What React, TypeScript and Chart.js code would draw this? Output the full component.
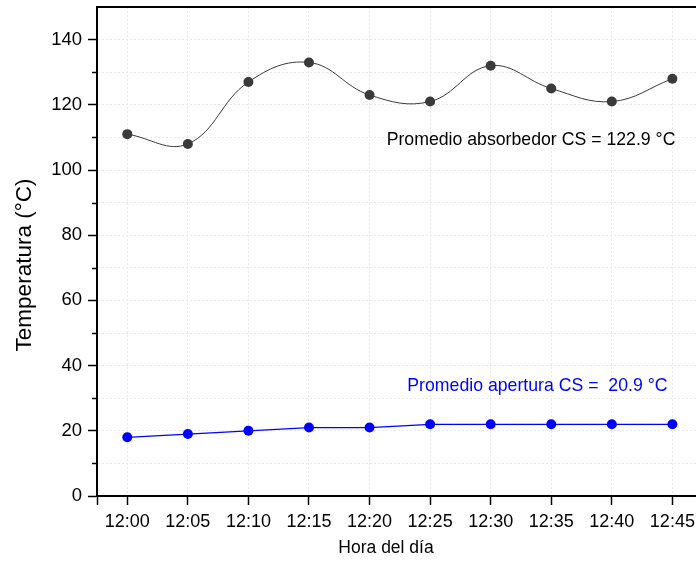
import React, { useEffect, useRef } from 'react';
import { Chart, registerables } from 'chart.js';

Chart.register(...registerables);

const categories = ['12:00', '12:05', '12:10', '12:15', '12:20', '12:25', '12:30', '12:35', '12:40', '12:45'];
const absorbedorValues = [111, 108, 127, 133, 123, 121, 132, 125, 121, 128];
const aperturaValues = [18, 19, 20, 21, 21, 22, 22, 22, 22, 22];
const yTickLabels = [0, 20, 40, 60, 80, 100, 120, 140];
const yMinorTicks = [10, 30, 50, 70, 90, 110, 130];
const xRange = { min: -0.5, max: 9.39 };
const yRange = { min: 0, max: 150 };
const annotations = [
  { text: 'Promedio absorbedor CS = 122.9 °C', x: 9.05, y: 109.3, color: '#000000' },
  { text: 'Promedio apertura CS =  20.9 °C', x: 8.92, y: 33.6, color: '#0000ff' },
];
const xTitle = 'Hora del día';
const yTitle = 'Temperatura (°C)';

const FONT = "'Liberation Sans', Arial, sans-serif";

export default function App() {
  const ref = useRef<HTMLCanvasElement | null>(null);

  useEffect(() => {
    if (!ref.current) return;
    const extras = {
      id: 'extras',
      afterDraw(chart: any) {
        const ctx = chart.ctx;
        const { left, right, top } = chart.chartArea;
        const ys = chart.scales.y;
        ctx.save();
        ctx.strokeStyle = '#000';
        ctx.lineWidth = 2;
        ctx.beginPath();
        ctx.moveTo(left - 1, top);
        ctx.lineTo(right, top);
        ctx.stroke();
        ctx.lineWidth = 1.5;
        yMinorTicks.forEach((v) => {
          const py = Math.round(ys.getPixelForValue(v)) + 0.5;
          ctx.beginPath();
          ctx.moveTo(left - 5, py);
          ctx.lineTo(left, py);
          ctx.stroke();
        });
        ctx.fillStyle = '#000';
        ctx.textAlign = 'center';
        ctx.textBaseline = 'middle';
        ctx.font = `17.5px ${FONT}`;
        ctx.fillText(xTitle, 386, 548);
        ctx.font = `22.5px ${FONT}`;
        ctx.translate(25, 265);
        ctx.rotate(-Math.PI / 2);
        ctx.fillText(yTitle, 0, 0);
        ctx.restore();
      },
      afterDatasetsDraw(chart: any) {
        const ctx = chart.ctx;
        const xs = chart.scales.x;
        const ys = chart.scales.y;
        ctx.save();
        ctx.font = `17.7px ${FONT}`;
        ctx.textAlign = 'right';
        ctx.textBaseline = 'middle';
        annotations.forEach((a) => {
          ctx.fillStyle = a.color;
          ctx.fillText(a.text, xs.getPixelForValue(a.x), ys.getPixelForValue(a.y));
        });
        ctx.restore();
      },
    };

    const chart = new Chart(ref.current, {
      type: 'line',
      data: {
        datasets: [
          {
            label: 'Absorbedor',
            data: absorbedorValues.map((v, i) => ({ x: i, y: v })),
            borderColor: '#3a3a3a',
            backgroundColor: '#3a3a3a',
            borderWidth: 1,
            pointRadius: 5,
            pointBorderWidth: 0,
            tension: 0.4,
            fill: false,
          },
          {
            label: 'Apertura',
            data: aperturaValues.map((v, i) => ({ x: i, y: v })),
            borderColor: '#0000ff',
            backgroundColor: '#0000ff',
            borderWidth: 1.2,
            pointRadius: 5,
            pointBorderWidth: 0,
            tension: 0,
            fill: false,
          },
        ],
      },
      options: {
        responsive: false,
        animation: false,
        layout: { autoPadding: false, padding: { top: 7, left: 0, right: 0, bottom: 0 } },
        plugins: { legend: { display: false }, tooltip: { enabled: false } },
        scales: {
          x: {
            type: 'linear',
            min: xRange.min,
            max: xRange.max,
            afterBuildTicks: (scale: any) => {
              scale.ticks = [{ value: xRange.min }, ...categories.map((_, i) => ({ value: i }))];
            },
            afterFit: (scale: any) => {
              scale.height = 65;
              scale.paddingLeft = 0;
              scale.paddingRight = 0;
            },
            ticks: {
              autoSkip: false,
              maxRotation: 0,
              padding: 6,
              color: '#000',
              font: { size: 18, family: FONT },
              callback: (v: any) => (Number.isInteger(v) && categories[v] !== undefined ? categories[v] : ''),
            },
            grid: {
              color: (c: any) => (c.tick && Number.isInteger(c.tick.value) ? '#e8e8e8' : 'rgba(0,0,0,0)'),
              lineWidth: 1,
              tickLength: 9,
              tickColor: '#000',
              tickWidth: 1.5,
            },
            border: { display: true, color: '#000', width: 2, dash: [2, 2] },
            title: { display: false },
          },
          y: {
            type: 'linear',
            min: yRange.min,
            max: yRange.max,
            afterBuildTicks: (scale: any) => {
              const vals: number[] = [];
              for (let v = yRange.min; v <= yRange.max; v += 10) vals.push(v);
              scale.ticks = vals.map((v) => ({ value: v }));
            },
            afterFit: (scale: any) => {
              scale.width = 97;
              scale.paddingTop = 0;
              scale.paddingBottom = 0;
            },
            ticks: {
              autoSkip: false,
              padding: 6,
              color: '#000',
              font: { size: 18.5, family: FONT },
              callback: (v: any) => (yTickLabels.includes(v) ? String(v) : ''),
            },
            grid: {
              color: (c: any) =>
                c.tick && c.tick.value > yRange.min && c.tick.value < yRange.max ? '#e8e8e8' : 'rgba(0,0,0,0)',
              lineWidth: 1,
              tickLength: 9,
              tickColor: (c: any) => (c.tick && yTickLabels.includes(c.tick.value) ? '#000' : 'rgba(0,0,0,0)'),
              tickWidth: 1.5,
            },
            border: { display: true, color: '#000', width: 2, dash: [2, 2] },
            title: { display: false },
          },
        },
      },
      plugins: [extras],
    });
    return () => chart.destroy();
  }, []);

  return (
    <div style={{ position: 'absolute', left: 0, top: 0, width: 696, height: 561, background: '#fff' }}>
      <canvas ref={ref} width={696} height={561} style={{ display: 'block', width: 696, height: 561 }} />
    </div>
  );
}
